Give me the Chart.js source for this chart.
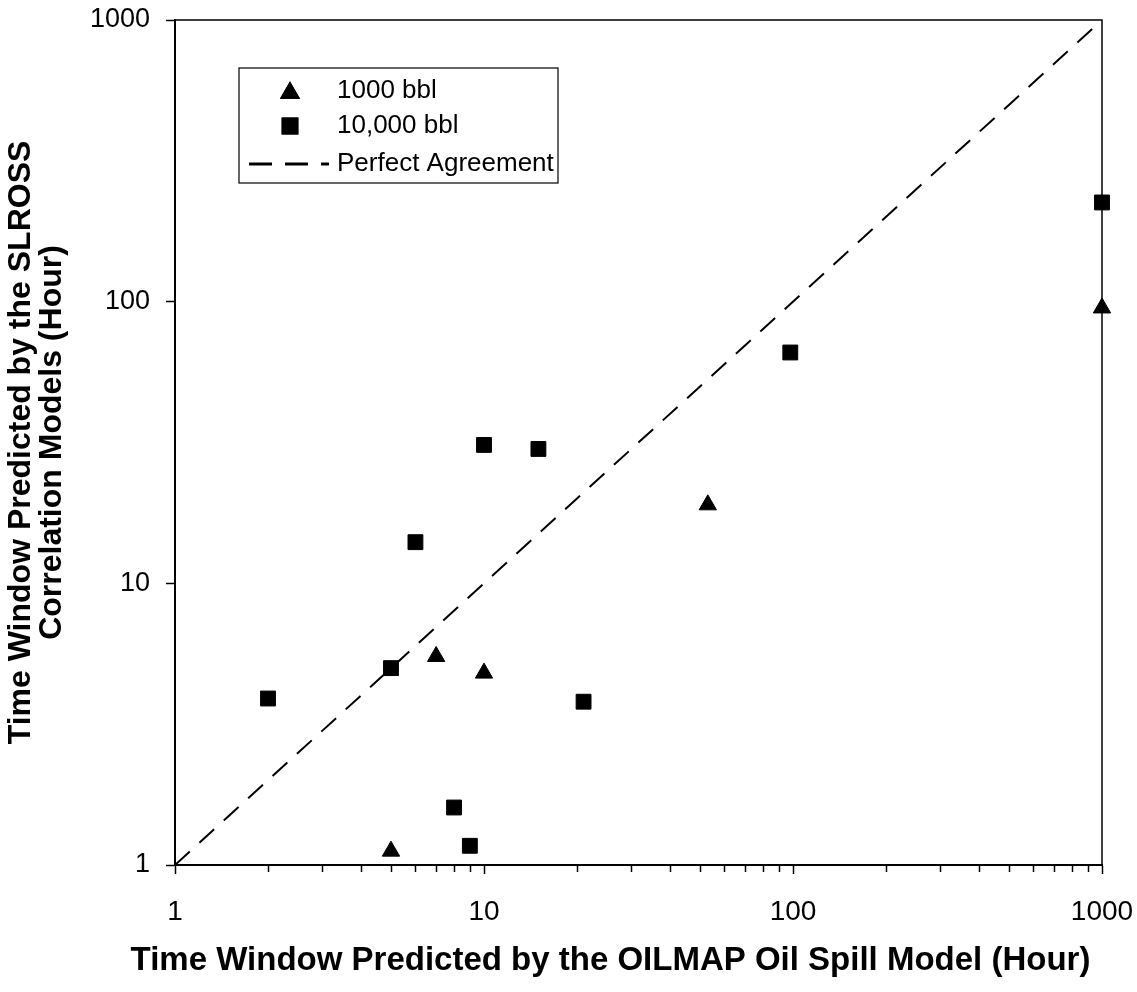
<!DOCTYPE html>
<html>
<head>
<meta charset="utf-8">
<script src="https://cdn.jsdelivr.net/npm/chart.js@4/dist/chart.umd.min.js"></script>
<style>
  body { margin: 0; background: #fff; }
  #wrap { width: 1137px; height: 992px; }
</style>
</head>
<body>
<div id="wrap"><canvas id="chart"></canvas></div>
<script>
// 1000 bbl spills (triangles)
const smallX = [5, 7, 10, 53, 1000];
const smallY = [1.12, 5.5, 4.8, 19, 95];

// 10,000 bbl spills (squares)
const largeX = [2, 5, 6, 8, 9, 10, 15, 21, 98, 1000];
const largeY = [3.9, 5, 14, 1.6, 1.17, 31, 30, 3.8, 66, 225];

// perfect agreement line
const lineX = [1, 1000];
const lineY = [1, 1000];

const majorTicks = [1, 10, 100, 1000];
const xTickValues = [1, 2, 3, 4, 5, 6, 7, 8, 9, 10, 20, 30, 40, 50, 60, 70, 80, 90,
  100, 200, 300, 400, 500, 600, 700, 800, 900, 1000];

const xTitle = 'Time Window Predicted by the OILMAP Oil Spill Model (Hour)';
const yTitle = ['Time Window Predicted by the SLROSS', 'Correlation Models (Hour)'];

const FONT = 'Arial, "Liberation Sans", sans-serif';

function toPoints(xs, ys) {
  return xs.map((x, i) => ({ x: x, y: ys[i] }));
}

// frame, minor ticks, x title and the boxed legend
const extras = {
  id: 'extras',
  afterDraw(chart) {
    const ctx = chart.ctx;
    const a = chart.chartArea;
    const xs = chart.scales.x;

    ctx.save();
    ctx.strokeStyle = '#000';
    ctx.lineWidth = 1.5;
    ctx.strokeRect(a.left, a.top, a.right - a.left, a.bottom - a.top);

    // shorter minor ticks under the x axis
    xTickValues.forEach(v => {
      if (majorTicks.includes(v)) return;
      const px = Math.round(xs.getPixelForValue(v)) + 0.5;
      ctx.beginPath();
      ctx.moveTo(px, a.bottom);
      ctx.lineTo(px, a.bottom + 7);
      ctx.stroke();
    });

    // x axis title
    ctx.fillStyle = '#000';
    ctx.font = 'bold 33px ' + FONT;
    ctx.textAlign = 'center';
    ctx.textBaseline = 'middle';
    ctx.fillText(xTitle, (a.left + a.right) / 2 - 28, 961);

    // legend box
    const bx = a.left + 64, by = a.top + 48, bw = 319, bh = 115;
    ctx.lineWidth = 1.2;
    ctx.strokeRect(bx, by, bw, bh);
    const rows = [by + 23, by + 58, by + 96];
    const ds = chart.data.datasets;
    ctx.font = '26px ' + FONT;
    ctx.textAlign = 'left';
    ds.forEach((d, i) => {
      const y = rows[i];
      if (d.showLine) {
        ctx.save();
        ctx.setLineDash([23, 13]);
        ctx.lineWidth = 3;
        ctx.beginPath();
        ctx.moveTo(bx + 10, y);
        ctx.lineTo(bx + 90, y);
        ctx.stroke();
        ctx.restore();
      } else {
        ctx.fillStyle = '#000';
        Chart.helpers.drawPoint(ctx, {
          pointStyle: d.pointStyle, radius: d.pointRadius + 0.5, rotation: 0, borderWidth: 1
        }, bx + 51, y + (d.pointStyle === 'triangle' ? 2 : 0));
        ctx.fill();
        ctx.stroke();
      }
      ctx.fillStyle = '#000';
      ctx.fillText(d.label, bx + 98, y);
    });
    ctx.restore();
  }
};

new Chart(document.getElementById('chart'), {
  type: 'scatter',
  data: {
    datasets: [
      {
        label: '1000 bbl',
        data: toPoints(smallX, smallY),
        pointStyle: 'triangle',
        pointRadius: 10,
        backgroundColor: '#000',
        borderColor: '#000',
        borderWidth: 1,
        clip: false
      },
      {
        label: '10,000 bbl',
        data: toPoints(largeX, largeY),
        pointStyle: 'rect',
        pointRadius: 10.5,
        backgroundColor: '#000',
        borderColor: '#000',
        borderWidth: 1,
        clip: false
      },
      {
        label: 'Perfect Agreement',
        data: toPoints(lineX, lineY),
        showLine: true,
        pointRadius: 0,
        borderColor: '#000',
        borderWidth: 2,
        borderDash: [20, 13]
      }
    ]
  },
  options: {
    responsive: true,
    maintainAspectRatio: false,
    animation: false,
    layout: { padding: { top: 20, right: 35, left: 0, bottom: 0 } },
    plugins: {
      legend: { display: false },
      tooltip: { enabled: false }
    },
    scales: {
      x: {
        type: 'logarithmic',
        min: 1,
        max: 1000,
        afterBuildTicks: s => { s.ticks = xTickValues.map(v => ({ value: v })); },
        afterFit: s => { s.height = 127; s.paddingLeft = 0; s.paddingRight = 0; },
        grid: {
          drawOnChartArea: false,
          tickLength: 9,
          tickWidth: 1.5,
          tickColor: c => majorTicks.includes(c.tick.value) ? '#000' : 'rgba(0,0,0,0)'
        },
        border: { color: '#000', width: 2 },
        ticks: {
          autoSkip: false,
          maxRotation: 0,
          padding: 21,
          color: '#000',
          font: { family: FONT, size: 28 },
          callback: v => majorTicks.includes(v) ? String(v) : ''
        }
      },
      y: {
        type: 'logarithmic',
        min: 1,
        max: 1000,
        afterBuildTicks: s => { s.ticks = majorTicks.map(v => ({ value: v })); },
        afterFit: s => { s.width = 175; s.paddingTop = 0; s.paddingBottom = 0; },
        grid: { drawOnChartArea: false, tickLength: 9, tickWidth: 1.5, tickColor: '#000' },
        border: { color: '#000', width: 2 },
        ticks: {
          autoSkip: false,
          padding: 16,
          color: '#000',
          font: { family: FONT, size: 27 },
          callback: v => String(v)
        },
        title: {
          display: true,
          text: yTitle,
          color: '#000',
          font: { family: FONT, size: 32, weight: 'bold', lineHeight: 0.97 },
          padding: { top: 6, bottom: 0 }
        }
      }
    }
  },
  plugins: [extras]
});
</script>
</body>
</html>
